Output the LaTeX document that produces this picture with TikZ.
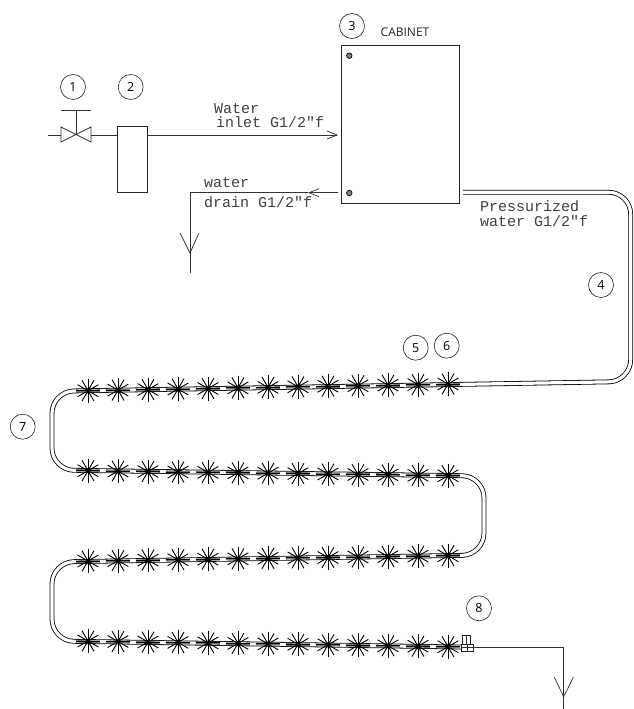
\documentclass[tikz,border=0pt]{standalone}
\usepackage{fontspec}
\setsansfont{Open Sans}
\setmonofont{Liberation Mono}
\usepackage{tikz}
\usetikzlibrary{arrows.meta}
\tikzset{
  wire/.style={line width=0.7pt, color=black!80},
  wirearrow/.style={wire, -{Straight Barb[length=10pt,width=8pt]}},
  tagcircle/.style={draw, circle, line width=0.6pt, color=black!85, text=black, inner sep=0pt,
       minimum size=25pt, font=\sffamily\fontsize{12.5}{12.5}\selectfont},
  pipelabel/.style={anchor=base west, inner sep=0pt, color=black!75, font=\ttfamily\fontsize{15}{15}\selectfont},
  boxpart/.style={draw, rectangle, line width=0.8pt, color=black!85, inner sep=0pt, outer sep=0pt},
  screw/.style={draw, circle, line width=0.7pt, fill=black!50, inner sep=0pt, minimum size=5.5pt},
  pipe/.style={line width=0.8pt, double=white, double distance=3.2pt, rounded corners=22pt, color=black},
  pipeshade/.style={line width=2.6pt, color=black!55, dash pattern=on 24pt off 6pt},
  sprinkler/.style={circle, inner sep=0pt, minimum size=25pt, path picture={
    \foreach \ang in {0,30,60,90,120,150}
      \draw[line width=0.9pt, black] ([shift={(\ang:12pt)}]path picture bounding box.center)
        -- ([shift={(\ang+180:12pt)}]path picture bounding box.center);
    \fill[black] (path picture bounding box.center) circle[radius=2.2pt];
  }},
}
\begin{document}
\begin{tikzpicture}[x=1pt, y=-1pt]
\useasboundingbox (0,0) rectangle (633,709);
\draw (73,87) node[tagcircle] (tag1) {1};
\draw (130.7,87) node[tagcircle] (tag2) {2};
\draw (352,26) node[tagcircle] (tag3) {3};
\draw (601,285) node[tagcircle] (tag4) {4};
\draw (415.7,347.7) node[tagcircle] (tag5) {5};
\draw (446.7,345.7) node[tagcircle] (tag6) {6};
\draw (22.7,426.7) node[tagcircle] (tag7) {7};
\draw (479,608.3) node[tagcircle] (tag8) {8};
\draw (405,32) node[inner sep=0pt, color=black!85, font=\sffamily\fontsize{12}{12}\selectfont] (cabinetlabel) {CABINET};
\draw (400.15,124.35) node[boxpart, minimum width=118.3pt, minimum height=157.3pt] (cabinet) {};
\draw (349.3,55.7) node[screw] (screwtop) {};
\draw (349.3,193) node[screw] (screwbottom) {};
\draw (132.3,159) node[boxpart, minimum width=29.3pt, minimum height=66pt] (filter) {};
\coordinate (feed) at (48,135);
\coordinate (valvein) at (61,135);
\coordinate (valve) at (76,135);
\coordinate (valveout) at (91,135);
\coordinate (handle) at (76,110);
\coordinate (inletend) at (338,135);
\draw[wire] (feed) -- (valvein);
\draw[wire] (61,127) -- (91,142) -- (91,127) -- (61,142) -- cycle;
\draw[wire] (valve) -- (handle);
\draw[wire] (61,110) -- (91,110);
\draw[wire] (valveout) -- (filter.west |- valveout);
\draw[wirearrow] (filter.east |- inletend) -- (inletend);
\coordinate (drainstart) at (338,192.7);
\coordinate (draintip) at (308,192.7);
\coordinate (draincorner) at (190,192.7);
\coordinate (drainfork) at (190,253);
\coordinate (drainend) at (190,273);
\draw[wirearrow] (drainstart) -- (draintip);
\draw[wire] (draintip) -- (draincorner) -- (drainend);
\draw[wire] (180,233) -- (drainfork) -- (199,233);
\draw (214,113) node[pipelabel] (inlettop) {Water};
\draw (216,127) node[pipelabel] (inletbottom) {inlet G1/2"f};
\draw (204,187) node[pipelabel] (draintop) {water};
\draw (204,207) node[pipelabel] (drainbottom) {drain G1/2"f};
\draw (480,211) node[pipelabel] (presstop) {Pressurized};
\draw (480,226) node[pipelabel] (pressbottom) {water G1/2"f};
\coordinate (pipestart) at (463,192.3);
\coordinate (pipeend) at (462,647);
\draw[pipe] (pipestart) -- (630.7,192.3) -- (630.7,381.5) -- (52,391.3) -- (52,470) -- (484,476) -- (484,555) -- (52,562) -- (52,641) -- (pipeend);
\draw[pipeshade] (76,390.9) -- (462,384.4);
\draw[pipeshade] (76,470.3) -- (462,475.7);
\draw[pipeshade] (76,561.6) -- (462,555.4);
\draw[pipeshade] (76,641.4) -- (462,647);
\draw (88,390.7) node[sprinkler] (s1a) {};
\draw (118,390.1) node[sprinkler] (s1b) {};
\draw (148,389.6) node[sprinkler] (s1c) {};
\draw (178,389) node[sprinkler] (s1d) {};
\draw (208,388.5) node[sprinkler] (s1e) {};
\draw (238,387.9) node[sprinkler] (s1f) {};
\draw (268,387.4) node[sprinkler] (s1g) {};
\draw (298,386.8) node[sprinkler] (s1h) {};
\draw (328,386.2) node[sprinkler] (s1i) {};
\draw (358,385.7) node[sprinkler] (s1j) {};
\draw (388,385.1) node[sprinkler] (s1k) {};
\draw (418,384.6) node[sprinkler] (s1l) {};
\draw (448,384) node[sprinkler] (s1m) {};
\draw (88,470.7) node[sprinkler] (s2a) {};
\draw (118,471.1) node[sprinkler] (s2b) {};
\draw (148,471.5) node[sprinkler] (s2c) {};
\draw (178,472) node[sprinkler] (s2d) {};
\draw (208,472.4) node[sprinkler] (s2e) {};
\draw (238,472.8) node[sprinkler] (s2f) {};
\draw (268,473.2) node[sprinkler] (s2g) {};
\draw (298,473.6) node[sprinkler] (s2h) {};
\draw (328,474) node[sprinkler] (s2i) {};
\draw (358,474.5) node[sprinkler] (s2j) {};
\draw (388,474.9) node[sprinkler] (s2k) {};
\draw (418,475.3) node[sprinkler] (s2l) {};
\draw (448,475.7) node[sprinkler] (s2m) {};
\draw (88,561) node[sprinkler] (s3a) {};
\draw (118,560.6) node[sprinkler] (s3b) {};
\draw (148,560.1) node[sprinkler] (s3c) {};
\draw (178,559.7) node[sprinkler] (s3d) {};
\draw (208,559.2) node[sprinkler] (s3e) {};
\draw (238,558.8) node[sprinkler] (s3f) {};
\draw (268,558.3) node[sprinkler] (s3g) {};
\draw (298,557.9) node[sprinkler] (s3h) {};
\draw (328,557.5) node[sprinkler] (s3i) {};
\draw (358,557) node[sprinkler] (s3j) {};
\draw (388,556.6) node[sprinkler] (s3k) {};
\draw (418,556.1) node[sprinkler] (s3l) {};
\draw (448,555.7) node[sprinkler] (s3m) {};
\draw (88,641) node[sprinkler] (s4a) {};
\draw (118,641.5) node[sprinkler] (s4b) {};
\draw (148,642) node[sprinkler] (s4c) {};
\draw (178,642.4) node[sprinkler] (s4d) {};
\draw (208,642.9) node[sprinkler] (s4e) {};
\draw (238,643.4) node[sprinkler] (s4f) {};
\draw (268,643.9) node[sprinkler] (s4g) {};
\draw (298,644.3) node[sprinkler] (s4h) {};
\draw (328,644.8) node[sprinkler] (s4i) {};
\draw (358,645.3) node[sprinkler] (s4j) {};
\draw (388,645.8) node[sprinkler] (s4k) {};
\draw (418,646.2) node[sprinkler] (s4l) {};
\draw (448,646.7) node[sprinkler] (s4m) {};
\draw (467.4,647.8) node[boxpart, line width=0.7pt, minimum width=11.6pt, minimum height=7.6pt] (fitting) {};
\draw (466.7,639.9) node[boxpart, line width=0.7pt, minimum width=8pt, minimum height=8.2pt] (fittingtop) {};
\draw[wire] (fitting.north) -- (fitting.south);
\draw[wire] (fittingtop.north) -- (fittingtop.south);
\draw[wire] (fitting.west) -- (fitting.east);
\coordinate (outcorner) at (563.7,647.8);
\coordinate (outfork) at (563.7,696.7);
\coordinate (outend) at (563.7,709);
\draw[wire] (fitting.east) -- (outcorner) -- (outend);
\draw[wire] (554.3,677.3) -- (outfork) -- (573.3,677.3);
\end{tikzpicture}
\end{document}
